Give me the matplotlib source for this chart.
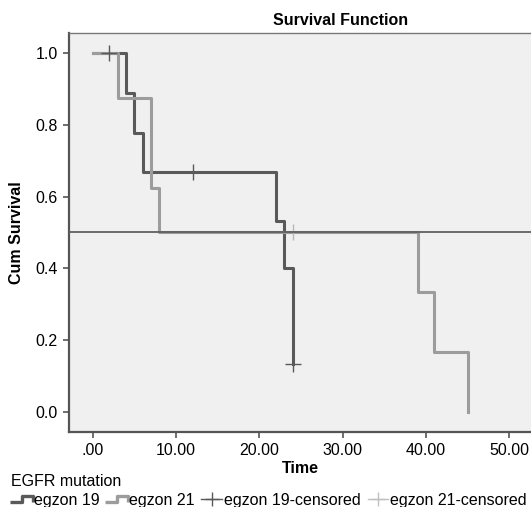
import matplotlib.pyplot as plt
from matplotlib.lines import Line2D
from matplotlib.path import Path

plt.rcParams['font.family'] = ['Liberation Sans', 'DejaVu Sans']

# --- Kaplan-Meier steps ---
t19 = [0, 4, 5, 6, 22, 23, 24]
s19 = [1.0, 0.889, 0.778, 0.667, 0.533, 0.400, 0.133]
cens19_t = [2, 12, 24]
cens19_s = [1.0, 0.667, 0.133]

t21 = [0, 3, 7, 8, 39, 41, 45]
s21 = [1.0, 0.875, 0.625, 0.500, 0.333, 0.167, 0.0]
cens21_t = [24]
cens21_s = [0.5]

ref_level = 0.5
xticks = [0, 10, 20, 30, 40, 50]
yticks = [0.0, 0.2, 0.4, 0.6, 0.8, 1.0]

dark = '#595959'
light = '#9c9c9c'
fs = 11.5

fig = plt.figure(figsize=(5.31, 5.07), dpi=100)
ax = fig.add_axes([0.130, 0.148, 0.870, 0.787])
ax.set_facecolor('#f0f0f0')

ax.step(t19, s19, where='post', color=dark, lw=2.2, zorder=3)
ax.step(t21, s21, where='post', color=light, lw=2.2, zorder=4)
ax.plot(cens19_t, cens19_s, ls='none', marker='+', ms=11, mew=1.0, color=dark, zorder=5)
ax.plot(cens21_t, cens21_s, ls='none', marker='|', ms=11, mew=1.0, color='#b8b8b8', zorder=5)
ax.axhline(ref_level, color='#606060', lw=1.3, zorder=6)

ax.set_xlim(-2.85, 52.6)
ax.set_ylim(-0.055, 1.055)
ax.set_xticks(xticks)
ax.set_xticklabels(['.00'] + ['%.2f' % v for v in xticks[1:]])
ax.set_yticks(yticks)
ax.set_yticklabels(['%.1f' % v for v in yticks])
ax.tick_params(labelsize=fs, length=4, width=1.2, color='#555555', pad=4)

for side in ['left', 'bottom']:
    ax.spines[side].set_color('#555555')
    ax.spines[side].set_linewidth(1.6)
ax.spines['top'].set_color('#777777')
ax.spines['top'].set_linewidth(1.0)
ax.spines['right'].set_visible(False)

ax.set_xlabel('Time', fontsize=fs, fontweight='bold')
ax.xaxis.set_label_coords(0.5, -0.072)
ax.set_ylabel('Cum Survival', fontsize=fs, fontweight='bold')
ax.yaxis.set_label_coords(-0.097, 0.5)
ax.set_title('Survival Function', fontsize=fs, fontweight='bold', x=0.587, pad=6)

# step-shaped legend icon
step_icon = Path([(-1.0, -0.25), (0.0, -0.25), (0.0, 0.25), (0.9, 0.25), (0.9, -0.25)],
                 [Path.MOVETO, Path.LINETO, Path.LINETO, Path.LINETO, Path.LINETO])
handles = [
    Line2D([], [], ls='none', marker=step_icon, ms=17, mew=2.4, fillstyle='none', color=dark),
    Line2D([], [], ls='none', marker=step_icon, ms=17, mew=2.4, fillstyle='none', color=light),
    Line2D([], [], ls='-', lw=1.0, marker='+', ms=10, mew=1.0, color=dark),
    Line2D([], [], ls='-', lw=1.0, marker='+', ms=10, mew=1.0, color='#c0c0c0'),
]
labels = ['egzon 19', 'egzon 21', 'egzon 19-censored', 'egzon 21-censored']
leg = fig.legend(handles, labels, title='EGFR mutation', ncol=4, loc='lower left',
                 bbox_to_anchor=(0.0, -0.024), frameon=False, fontsize=fs,
                 title_fontsize=fs, handlelength=1.3, handletextpad=0.1,
                 columnspacing=0.45, borderpad=0.2, labelspacing=0.25)
leg._legend_box.align = 'left'

fig.savefig('out.png', dpi=100)
